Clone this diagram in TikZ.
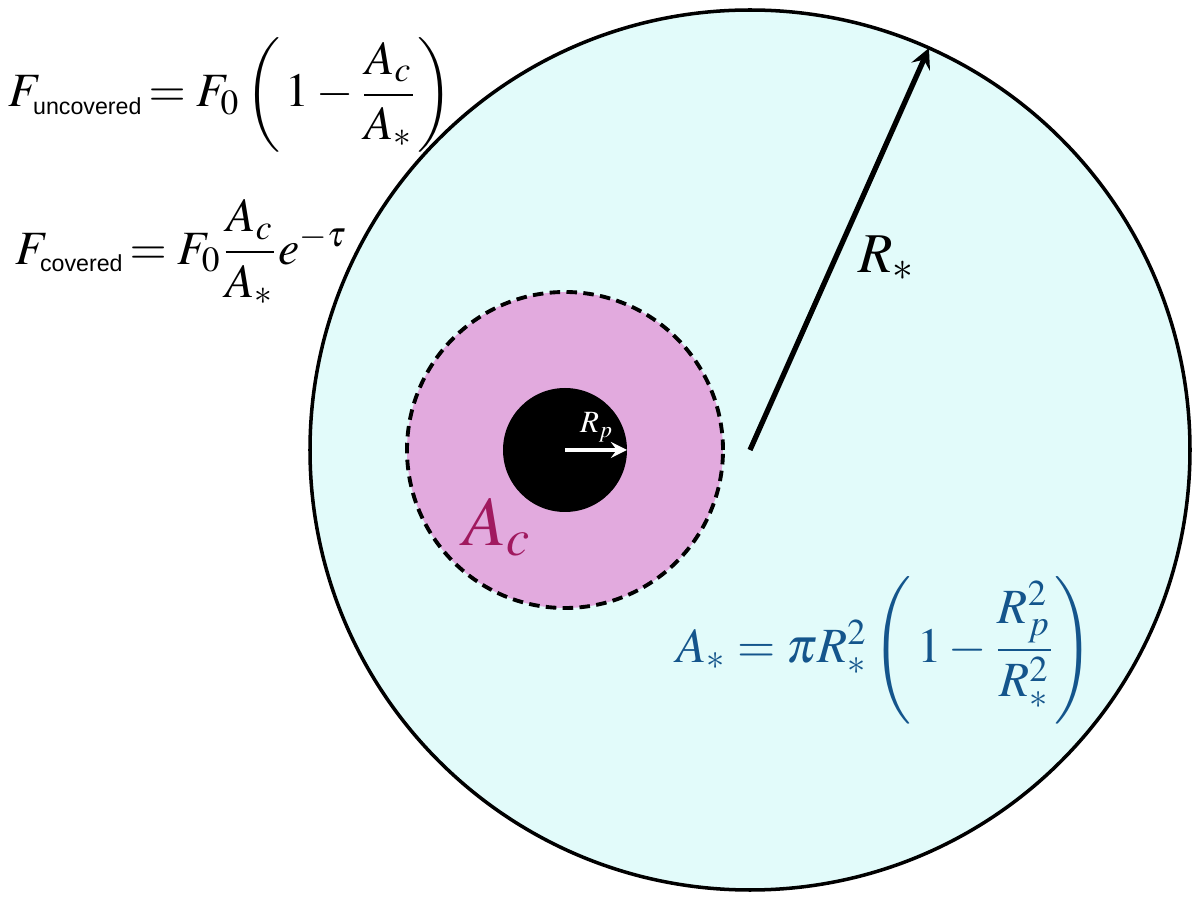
\documentclass[tikz,border=0pt]{standalone}
\usepackage{amsmath,mathptmx}
\usepackage[no-math]{fontspec}
\setmainfont{Liberation Serif}
\setsansfont{Liberation Sans}
\usetikzlibrary{calc}
\tikzset{>=stealth}
\definecolor{starcol}{RGB}{226,251,250}
\definecolor{cloudcol}{RGB}{226,170,222}
\definecolor{accol}{RGB}{160,25,95}
\definecolor{eqcol}{RGB}{20,85,140}
\newcommand{\fsz}[1]{\fontsize{#1}{#1}\selectfont}
\newcommand{\sub}[1]{\mbox{\fontsize{6.6}{7}\sffamily #1}}

\begin{document}
\begin{tikzpicture}
\useasboundingbox (0,0) rectangle (12,9);
\coordinate (star) at (7.5,4.5);
\coordinate (planet) at (5.65,4.5);
% star disc
\draw[line width=1pt, fill=starcol] (star) circle (4.4);
% covered region and planet
\draw[line width=1.1pt, dash pattern=on 3pt off 1.8pt, fill=cloudcol] (planet) circle (1.58);
\fill (planet) circle (0.62);
\coordinate (rim) at ($(star)+(66:4.4)$);
\coordinate (prim) at ($(planet)+(0.62,0)$);
\draw[->, line width=1.5pt] (star) -- (rim);
\draw[->, white, line width=1pt] (planet) -- (prim);
% labels
\node (rstar) at (8.87,6.42) {\fsz{16}$R_*$};
\node[white] (rp) at (5.97,4.73) {\fsz{8.8}$R_p$};
\node[text=accol] (ac) at (4.97,3.73) {\fsz{20}$A_c$};
\node[text=eqcol] (astar) at (8.85,2.5) {\fsz{14}$A_* = \pi R_*^2\left(\,1-\dfrac{R_p^2}{R_*^2}\right)$};
\node[anchor=west, inner sep=0pt] (fun) at (0.08,8.05) {\fsz{13.6}$F_{\sub{uncovered}}\!= F_0\left(\,1-\dfrac{A_c}{A_*}\right)$};
\node[anchor=west, inner sep=0pt] (fco) at (0.15,6.48) {\fsz{13.6}$F_{\sub{covered}}\!= F_0\dfrac{A_c}{A_*}e^{-\tau}$};
\end{tikzpicture}
\end{document}
